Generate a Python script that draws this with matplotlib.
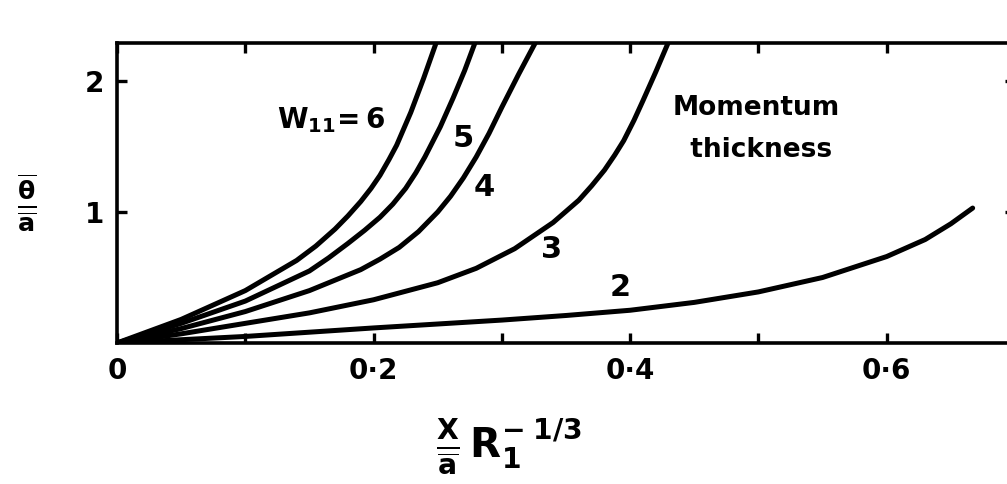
import matplotlib
matplotlib.use("Agg")
import matplotlib.pyplot as plt
from matplotlib.ticker import FixedLocator, FuncFormatter

# Momentum thickness theta/a versus (X/a) R1^(-1/3) for several W11 values
w_values = [6, 5, 4, 3, 2]

x_w6 = [0, 0.05, 0.10, 0.14, 0.155, 0.17, 0.18, 0.19, 0.198, 0.205, 0.212,
        0.218, 0.229, 0.239, 0.248, 0.252]
y_w6 = [0, 0.18, 0.40, 0.63, 0.74, 0.87, 0.97, 1.08, 1.18, 1.28, 1.40,
        1.51, 1.76, 2.02, 2.27, 2.38]

x_w5 = [0, 0.05, 0.10, 0.15, 0.165, 0.18, 0.193, 0.205, 0.215, 0.225, 0.233,
        0.240, 0.252, 0.262, 0.271, 0.279, 0.283]
y_w5 = [0, 0.15, 0.32, 0.55, 0.65, 0.76, 0.86, 0.96, 1.06, 1.18, 1.30,
        1.42, 1.65, 1.87, 2.08, 2.29, 2.40]

x_w4 = [0, 0.05, 0.10, 0.15, 0.19, 0.205, 0.22, 0.235, 0.25, 0.26, 0.27,
        0.28, 0.29, 0.30, 0.313, 0.326, 0.331]
y_w4 = [0, 0.11, 0.24, 0.40, 0.56, 0.64, 0.73, 0.85, 1.00, 1.12, 1.26,
        1.42, 1.60, 1.80, 2.05, 2.29, 2.40]

x_w3 = [0, 0.05, 0.10, 0.15, 0.20, 0.25, 0.28, 0.31, 0.34, 0.36, 0.37,
        0.38, 0.388, 0.395, 0.403, 0.41, 0.42, 0.43, 0.435]
y_w3 = [0, 0.07, 0.15, 0.23, 0.33, 0.46, 0.57, 0.72, 0.92, 1.09, 1.20,
        1.32, 1.435, 1.545, 1.70, 1.85, 2.07, 2.30, 2.40]

x_w2 = [0, 0.10, 0.20, 0.30, 0.35, 0.40, 0.45, 0.50, 0.55, 0.60, 0.63, 0.65, 0.667]
y_w2 = [0, 0.05, 0.115, 0.175, 0.21, 0.25, 0.31, 0.39, 0.50, 0.66, 0.79, 0.91, 1.03]

series_x = [x_w6, x_w5, x_w4, x_w3, x_w2]
series_y = [y_w6, y_w5, y_w4, y_w3, y_w2]

x_major = [0, 0.2, 0.4, 0.6]
x_minor = [0.1, 0.3, 0.5]
y_ticks = [1, 2]

plt.rcParams["font.family"] = ["DejaVu Sans"]
plt.rcParams["font.weight"] = "bold"
plt.rcParams["mathtext.fontset"] = "dejavusans"
plt.rcParams["mathtext.default"] = "bf"

fig = plt.figure(figsize=(10.07, 4.84), dpi=100)
ax = fig.add_axes([117 / 1007, 141 / 484, 898 / 1007, 300 / 484])

for xs, ys in zip(series_x, series_y):
    ax.plot(xs, ys, color="black", lw=3.6, solid_capstyle="round",
            solid_joinstyle="round")

ax.set_xlim(0, 0.70)
ax.set_ylim(0, 2.29)

for s in ax.spines.values():
    s.set_linewidth(2.6)

ax.xaxis.set_major_locator(FixedLocator(x_major))
ax.xaxis.set_minor_locator(FixedLocator(x_minor))
ax.yaxis.set_major_locator(FixedLocator(y_ticks))
ax.xaxis.set_major_formatter(
    FuncFormatter(lambda v, p: "0" if v == 0 else f"{v:.1f}".replace(".", "\u00b7")))
ax.yaxis.set_major_formatter(FuncFormatter(lambda v, p: f"{v:.0f}"))

ax.tick_params(axis="both", which="both", direction="in", length=7, width=2.4,
               top=True, right=True, labelsize=20)
ax.tick_params(axis="x", which="major", pad=10)
ax.tick_params(axis="y", which="major", pad=9)

# curve labels
ax.text(0.167, 1.70, r"$W_{11}\!=6$", fontsize=20, ha="center", va="center")
ax.text(0.270, 1.56, "5", fontsize=22, ha="center", va="center")
ax.text(0.286, 1.19, "4", fontsize=22, ha="center", va="center")
ax.text(0.339, 0.71, "3", fontsize=22, ha="center", va="center")
ax.text(0.392, 0.42, "2", fontsize=22, ha="center", va="center")
ax.text(0.433, 1.63, "Momentum\n  thickness", fontsize=19, ha="left",
        va="center", linespacing=1.8)

# axis labels
fig.text(509 / 1007, 1 - 447 / 484, r"$\frac{X}{\overline{a}}\,R_1^{-\;1/3}$",
         fontsize=29, ha="center", va="center")
fig.text(27 / 1007, 1 - 203 / 484, r"$\frac{\overline{\theta}}{\overline{a}}$",
         fontsize=26, ha="center", va="center")

fig.savefig("out.png", dpi=100, facecolor="white")
